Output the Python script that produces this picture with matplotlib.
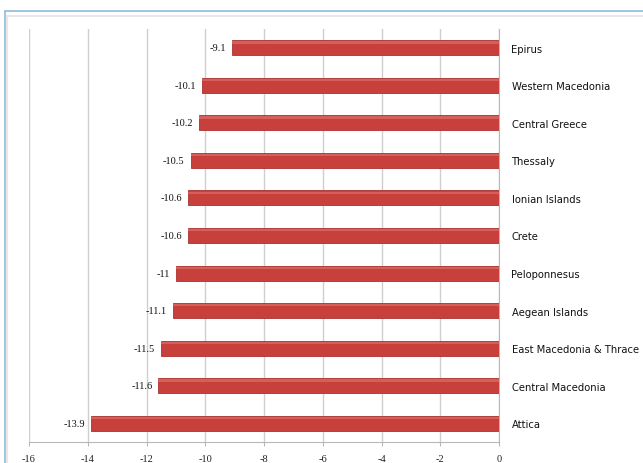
import numpy as np
import matplotlib
matplotlib.use("Agg")
import matplotlib.pyplot as plt
from matplotlib.patches import Rectangle

# regions listed top to bottom, change in %
regions = [
    "Epirus",
    "Western Macedonia",
    "Central Greece",
    "Thessaly",
    "Ionian Islands",
    "Crete",
    "Peloponnesus",
    "Aegean Islands",
    "East Macedonia & Thrace",
    "Central Macedonia",
    "Attica",
]
values = [-9.1, -10.1, -10.2, -10.5, -10.6, -10.6, -11, -11.1, -11.5, -11.6, -13.9]
value_labels = ["-9.1", "-10.1", "-10.2", "-10.5", "-10.6", "-10.6", "-11", "-11.1", "-11.5", "-11.6", "-13.9"]
xticks = [-16, -14, -12, -10, -8, -6, -4, -2, 0]

fig = plt.figure(figsize=(6.43, 4.64), dpi=100)
fig.patch.set_facecolor("white")

# chart frame
fig.patches.append(Rectangle((5 / 643, -0.05), 1.0, 1 - 12 / 464 + 0.05,
                             transform=fig.transFigure, fill=False,
                             edgecolor="#8cbbdc", linewidth=1.2))
fig.patches.append(Rectangle((7 / 643, -0.05), 1.0, 1 - 17 / 464 + 0.05,
                             transform=fig.transFigure, fill=False,
                             edgecolor="#e8e8e8", linewidth=1.5))

ax = fig.add_axes([29 / 643, 1 - 443 / 464, (499 - 29) / 643, (443 - 30) / 464])

y = np.arange(len(regions))
ax.barh(y, values, height=0.4, color="#c8403c", edgecolor="#a8322f",
        linewidth=0.6, zorder=3)
# lighter strip near the top of each bar
ax.barh(y - 0.14, values, height=0.06, color="#d85e5a", linewidth=0, zorder=4)

for yi, v, lab in zip(y, values, value_labels):
    ax.text(v - 0.2, yi, lab, ha="right", va="center", fontsize=7.5,
            family="Liberation Serif", color="#111111")

ax.set_xlim(-16, 0)
ax.set_ylim(len(regions) - 0.5, -0.5)
ax.set_xticks(xticks)
ax.set_xticklabels([str(t) for t in xticks], family="Liberation Serif",
                   fontsize=7.5, color="#222222")
ax.tick_params(axis="x", length=3, color="#b8b8b8", pad=6)

ax.yaxis.tick_right()
ax.set_yticks(y)
ax.set_yticklabels(regions, fontsize=7.2, color="#111111", family="DejaVu Sans")
ax.tick_params(axis="y", length=0, pad=9)

ax.grid(axis="x", color="#cfcfcf", linewidth=1, zorder=0)
for side in ["top", "left"]:
    ax.spines[side].set_visible(False)
ax.spines["right"].set_color("#b8b8b8")
ax.spines["bottom"].set_color("#b8b8b8")

plt.savefig("out.png", dpi=100)
